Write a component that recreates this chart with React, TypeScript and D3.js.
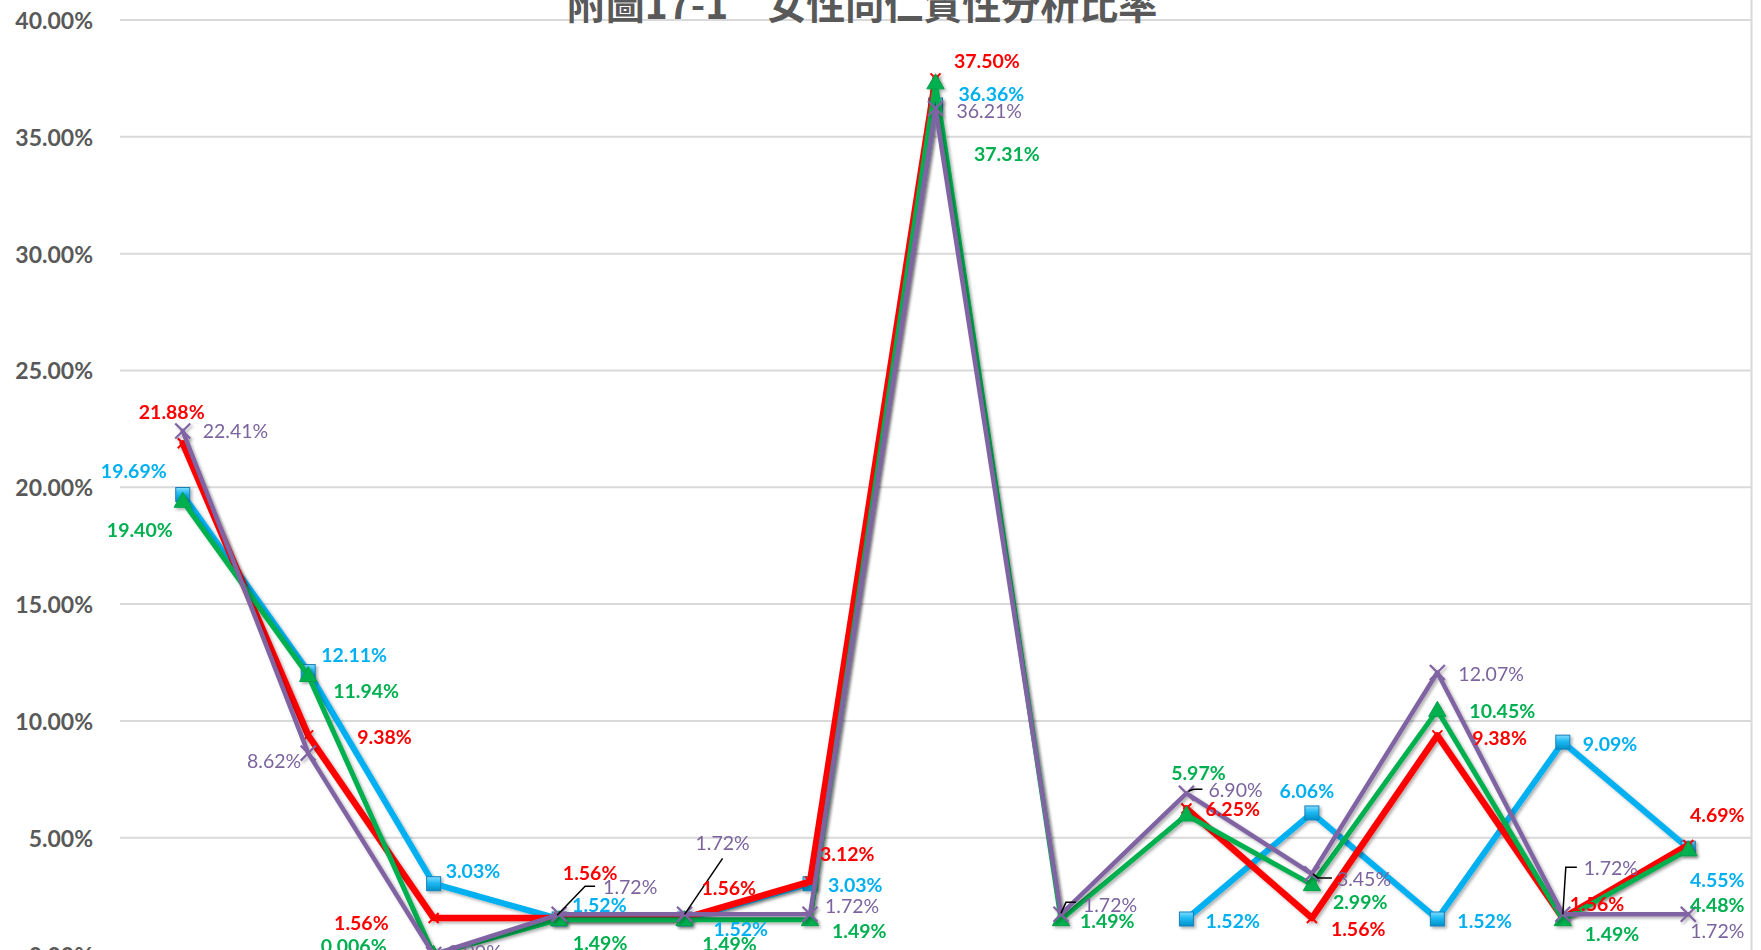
import React from 'react';
import * as d3 from 'd3';

// ---------- DATA ----------
const categories = ['1', '2', '3', '4', '5', '6', '7', '8', '9', '10', '11', '12', '13'];
const redValues: (number | null)[] = [21.88, 9.38, 1.56, 1.56, 1.56, 3.12, 37.5, null, 6.25, 1.56, 9.38, 1.56, 4.69];
const blueValues: (number | null)[] = [19.69, 12.11, 3.03, 1.52, 1.52, 3.03, 36.36, null, 1.52, 6.06, 1.52, 9.09, 4.55];
const greenValues: (number | null)[] = [19.4, 11.94, 0.006, 1.49, 1.49, 1.49, 37.31, 1.49, 5.97, 2.99, 10.45, 1.49, 4.48];
const purpleValues: (number | null)[] = [22.41, 8.62, 0.0, 1.72, 1.72, 1.72, 36.21, 1.72, 6.9, 3.45, 12.07, 1.72, 1.72];
const yTicks = [0, 5, 10, 15, 20, 25, 30, 35, 40];
const title = '附圖17-1　女性同仁質性分析比率';

// ---------- LABEL PLACEMENT (offsets from each point) ----------
type LP = [number, number, 's' | 'm' | 'e'] | null;
const redLabelPos: LP[] = [[-11, -32, 'm'], [49, 1, 's'], [-45, 4, 'e'], [31, -46, 'm'], [17, -31, 's'], [10, -28, 's'], [18.5, -18, 's'], null, [19, 0, 's'], [19, 10, 's'], [35, 2, 's'], [7, -15, 's'], [29, -30, 'm']];
const blueLabelPos: LP[] = [[-16, -24, 'e'], [13, -17, 's'], [12, -13, 's'], [13, -14, 's'], [29, 10, 's'], [18, 1, 's'], [23, -12, 's'], null, [19, 2, 's'], [-5, -22, 'm'], [20, 2, 's'], [20, 1, 's'], [29, 31, 'm']];
const greenLabelPos: LP[] = [[-10, 28, 'e'], [25, 15, 's'], [-47, -9, 'e'], [41, 23, 'm'], [45, 24, 'm'], [22, 11, 's'], [38.5, 71, 's'], [19, 1, 's'], [12, -43, 'm'], [21, 17, 's'], [32, 0, 's'], [22, 14, 's'], [29, 55, 'm']];
const purpleLabelPos: LP[] = [[20, 0, 's'], [-7, 7, 'e'], [14, -3.5, 's'], [44, -28, 's'], [38, -72, 'm'], [15, -9, 's'], [21, 1.5, 's'], [22, -10, 's'], [22, -4, 's'], [25, 5, 's'], [21, 1, 's'], [21, -47, 's'], [29, 16, 'm']];
const purpleLeaders: { i: number; pts: [number, number][] }[] = [
  { i: 3, pts: [[-2, 1], [26, -28], [36, -28]] },
  { i: 4, pts: [[0, 0], [38, -56]] },
  { i: 7, pts: [[0, -1], [5, -12], [15, -12]] },
  { i: 8, pts: [[2, -2], [7, -4], [16, -4]] },
  { i: 9, pts: [[1, 0], [6, 4], [20, 4]] },
  { i: 11, pts: [[0, 0], [3, -47], [14, -47]] },
];

const W = 1761;
const H = 950;

type Marker = 'x' | 'square' | 'triangle' | 'bigx';
interface Series {
  key: string;
  values: (number | null)[];
  color: string;
  labelColor: string;
  width: number;
  marker: Marker;
  weight: number;
  pos: LP[];
}

const series: Series[] = [
  { key: 'blue', values: blueValues, color: '#00B0F0', labelColor: '#00B0F0', width: 6, marker: 'square', weight: 700, pos: blueLabelPos },
  { key: 'red', values: redValues, color: '#FF0000', labelColor: '#FF0000', width: 6.5, marker: 'x', weight: 700, pos: redLabelPos },
  { key: 'green', values: greenValues, color: '#00B050', labelColor: '#00B050', width: 5, marker: 'triangle', weight: 700, pos: greenLabelPos },
  { key: 'purple', values: purpleValues, color: '#8064A2', labelColor: '#7B649E', width: 4.5, marker: 'bigx', weight: 400, pos: purpleLabelPos },
];
const labelOrder = ['red', 'blue', 'green', 'purple'];

const fmt = (v: number) => (v > 0 && v < 0.01 ? v.toFixed(3) + '%' : v.toFixed(2) + '%');

export default function App() {
  const x = d3.scaleBand<string>().domain(categories).range([120, 1751]).padding(0);
  const cx = (i: number) => (x(categories[i]) as number) + x.bandwidth() / 2;
  const y = d3.scaleLinear().domain([0, 40]).range([954.5, 20]);

  const line = d3
    .line<number | null>()
    .defined((d) => d !== null)
    .x((_, i) => cx(i))
    .y((d) => y(d as number));

  const renderMarker = (s: Series, i: number, v: number) => {
    const px = cx(i);
    const py = y(v);
    if (s.marker === 'square') {
      return <rect key={i} x={px - 7} y={py - 7} width={14} height={14} fill="url(#blueGrad)" stroke="#1A7FB8" strokeWidth={1} />;
    }
    if (s.marker === 'triangle') {
      const sym = d3.symbol(d3.symbolTriangle, 130)();
      return <path key={i} d={sym as string} transform={`translate(${px},${py + 1})`} fill="#00B050" stroke="#00A048" strokeWidth={1} />;
    }
    const r = s.marker === 'bigx' ? 7.5 : 5;
    return (
      <path
        key={i}
        d={`M${px - r},${py - r}L${px + r},${py + r}M${px - r},${py + r}L${px + r},${py - r}`}
        stroke={s.color}
        strokeWidth={s.marker === 'bigx' ? 2.2 : 2}
        fill="none"
      />
    );
  };

  const anchorOf = (a: 's' | 'm' | 'e') => (a === 's' ? 'start' : a === 'm' ? 'middle' : 'end');

  return (
    <svg width={W} height={H} style={{ position: 'absolute', left: 0, top: 0, background: '#fff' }}>
      <defs>
        <linearGradient id="blueGrad" x1="0" y1="0" x2="0" y2="1">
          <stop offset="0%" stopColor="#7FDDFF" />
          <stop offset="45%" stopColor="#1EB9F2" />
          <stop offset="100%" stopColor="#0090C8" />
        </linearGradient>
        <filter id="shadow" x="-10%" y="-10%" width="120%" height="120%">
          <feDropShadow dx="2" dy="2" stdDeviation="1.6" floodColor="#000" floodOpacity="0.3" />
        </filter>
      </defs>
      <rect x={0} y={0} width={W} height={H} fill="#fff" />

      {/* gridlines */}
      {yTicks.map((t) => (
        <line key={t} x1={120} x2={1751} y1={y(t)} y2={y(t)} stroke="#D9D9D9" strokeWidth={2} />
      ))}
      {/* right border */}
      <line x1={1751.5} x2={1751.5} y1={0} y2={H} stroke="#D9D9D9" strokeWidth={2} />

      {/* y axis labels */}
      {yTicks.map((t) => (
        <text
          key={t}
          x={93}
          y={y(t)}
          textAnchor="end"
          dominantBaseline="central"
          fontFamily="Lato, 'Open Sans', sans-serif"
          fontWeight={700}
          fontSize={23}
          fill="#595959"
        >
          {t.toFixed(2) + '%'}
        </text>
      ))}

      {/* title */}
      <text
        x={862}
        y={19}
        textAnchor="middle"
        fontFamily="'Noto Sans CJK TC', 'Noto Sans CJK SC', sans-serif"
        fontWeight={700}
        fontSize={39}
        fill="#595959"
      >
        {title}
      </text>

      {/* lines */}
      {series.map((s) => (
        <g key={s.key} filter="url(#shadow)">
          <path d={line(s.values) as string} fill="none" stroke={s.color} strokeWidth={s.width} strokeLinejoin="round" strokeLinecap="round" />
          {s.values.map((v, i) => (v === null ? null : renderMarker(s, i, v)))}
        </g>
      ))}

      {/* leader lines */}
      {purpleLeaders.map((l) => {
        const px = cx(l.i);
        const py = y(purpleValues[l.i] as number);
        const d = 'M' + l.pts.map((p) => `${px + p[0]},${py + p[1]}`).join('L');
        return <path key={l.i} d={d} fill="none" stroke="#000" strokeWidth={1.5} />;
      })}

      {/* data labels */}
      {labelOrder.map((k) => {
        const s = series.find((q) => q.key === k) as Series;
        return (
          <g key={k}>
            {s.values.map((v, i) => {
              const p = s.pos[i];
              if (v === null || !p) return null;
              return (
                <text
                  key={i}
                  x={cx(i) + p[0]}
                  y={y(v) + p[1]}
                  textAnchor={anchorOf(p[2])}
                  dominantBaseline="central"
                  fontFamily="Lato, 'Open Sans', sans-serif"
                  fontWeight={s.weight}
                  fontSize={19.5}
                  fill={s.labelColor}
                >
                  {fmt(v)}
                </text>
              );
            })}
          </g>
        );
      })}
    </svg>
  );
}
